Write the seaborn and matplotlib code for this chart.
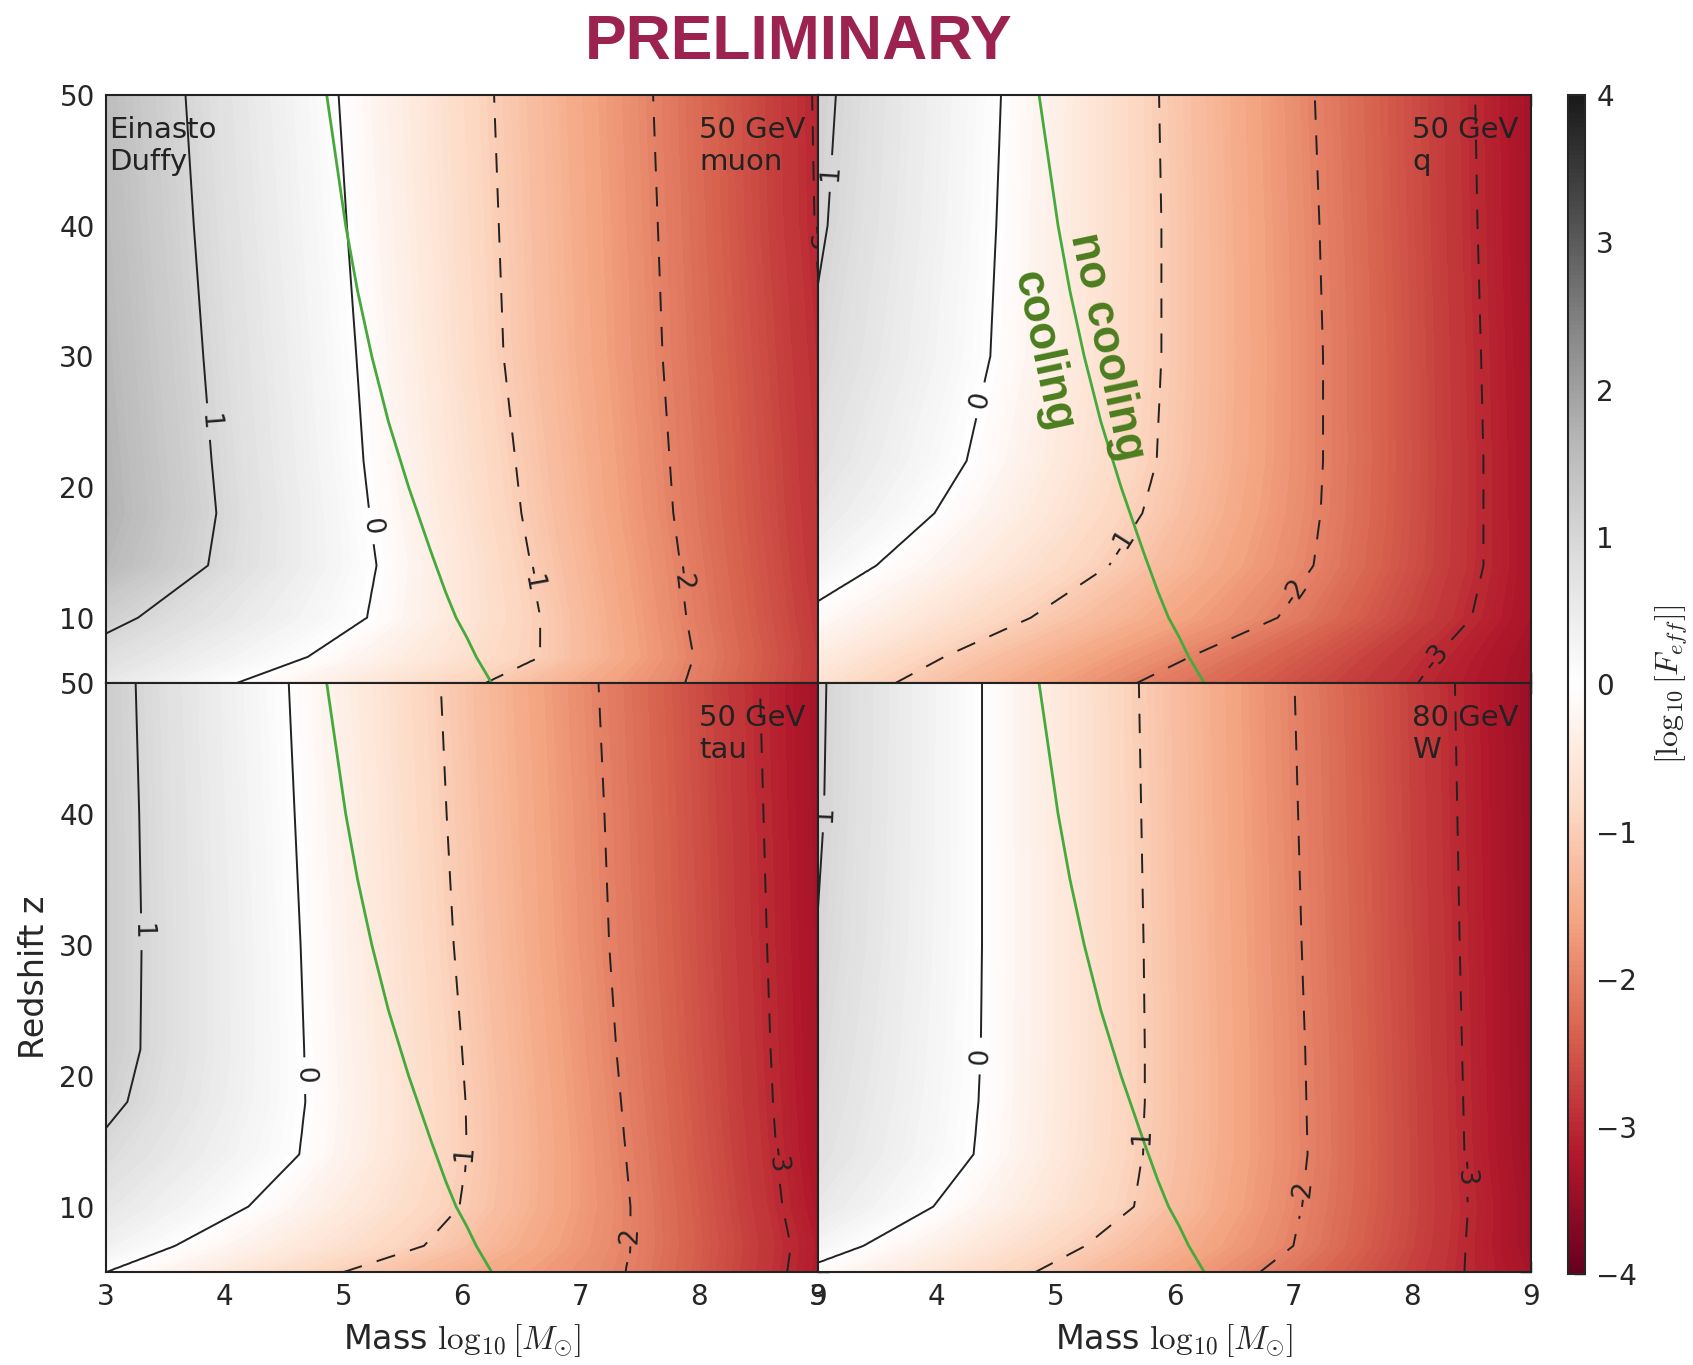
import numpy as np
import matplotlib
matplotlib.use("Agg")
import matplotlib.pyplot as plt
import seaborn as sns

# contour levels and the redshift nodes at which crossings were read
levels = [1, 0, -1, -2, -3]
z_nodes = [5, 7, 10, 14, 18, 22, 30, 40, 50]

# mass (log10 Msun) where each level crosses, one value per z node
muon_l1 = [2.2, 2.6, 3.27, 3.86, 3.93, 3.89, 3.82, 3.74, 3.67]
muon_l0 = [4.1, 4.7, 5.2, 5.28, 5.22, 5.17, 5.11, 5.03, 4.96]
muon_m1 = [6.2, 6.66, 6.66, 6.58, 6.5, 6.45, 6.35, 6.31, 6.27]
muon_m2 = [7.88, 7.95, 7.89, 7.84, 7.78, 7.75, 7.69, 7.65, 7.61]
muon_m3 = [9.25, 9.25, 9.2, 9.15, 9.12, 9.1, 9.05, 8.97, 8.95]

q_l1 = [0.2, 0.6, 1.2, 1.9, 2.3, 2.6, 2.9, 3.08, 3.15]
q_l0 = [1.8, 2.2, 2.77, 3.49, 3.98, 4.25, 4.45, 4.5, 4.54]
q_m1 = [3.65, 4.06, 4.79, 5.45, 5.73, 5.85, 5.89, 5.89, 5.87]
q_m2 = [5.68, 6.13, 6.87, 7.17, 7.23, 7.25, 7.25, 7.22, 7.18]
q_m3 = [8.05, 8.2, 8.5, 8.6, 8.6, 8.6, 8.58, 8.55, 8.53]

tau_l1 = [1.6, 1.9, 2.3, 2.82, 3.18, 3.29, 3.3, 3.28, 3.25]
tau_l0 = [3.0, 3.58, 4.2, 4.63, 4.68, 4.67, 4.64, 4.59, 4.54]
tau_m1 = [5.0, 5.68, 5.98, 6.04, 6.03, 6.0, 5.93, 5.87, 5.82]
tau_m2 = [7.38, 7.42, 7.42, 7.38, 7.34, 7.3, 7.24, 7.2, 7.15]
tau_m3 = [8.74, 8.77, 8.7, 8.65, 8.62, 8.6, 8.57, 8.54, 8.51]

w_l1 = [1.5, 1.8, 2.3, 2.6, 2.75, 2.85, 2.98, 3.05, 3.07]
w_l0 = [2.78, 3.38, 3.97, 4.31, 4.35, 4.37, 4.38, 4.38, 4.38]
w_m1 = [4.83, 5.25, 5.66, 5.73, 5.75, 5.75, 5.74, 5.72, 5.7]
w_m2 = [6.72, 7.0, 7.07, 7.12, 7.11, 7.1, 7.07, 7.04, 7.01]
w_m3 = [8.44, 8.45, 8.47, 8.44, 8.43, 8.42, 8.4, 8.38, 8.36]

# "no cooling" boundary
cool_z = [50, 45, 40, 35, 30, 25, 20, 15, 12, 10, 8.5, 7, 5]
cool_m = [4.86, 4.94, 5.02, 5.12, 5.24, 5.38, 5.55, 5.74, 5.86, 5.95, 6.04, 6.12, 6.25]

panel_names = ["50 GeV\nmuon", "50 GeV\nq", "50 GeV\ntau", "80 GeV\nW"]
panel_data = [
    [muon_l1, muon_l0, muon_m1, muon_m2, muon_m3],
    [q_l1, q_l0, q_m1, q_m2, q_m3],
    [tau_l1, tau_l0, tau_m1, tau_m2, tau_m3],
    [w_l1, w_l0, w_m1, w_m2, w_m3],
]
# where to put the contour labels (mass, z), same order as levels
label_spots = [
    [(3.85, 25), (5.22, 17), (6.6, 13), (7.85, 13), (8.97, 39)],
    [(3.1, 44), (4.43, 26.5), (5.6, 15.5), (7.1, 11.5), (8.2, 7)],
    [(3.3, 31), (4.67, 20), (6.04, 13.7), (7.42, 7.5), (8.65, 13.5)],
    [(3.05, 40), (4.37, 21.5), (5.73, 15), (7.12, 11), (8.44, 12.5)],
]


def build_field(crossings, m_grid, z_grid):
    cr = np.array(crossings, float)
    lv = np.array(levels, float)
    # crossing masses on the fine z grid
    cr_fine = np.array([np.interp(z_grid, z_nodes, row) for row in cr])
    F = np.empty((len(z_grid), len(m_grid)))
    for j in range(len(z_grid)):
        xs = cr_fine[:, j]
        f = np.interp(m_grid, xs, lv)
        lo = m_grid < xs[0]
        f[lo] = lv[0] + (m_grid[lo] - xs[0]) * (lv[1] - lv[0]) / (xs[1] - xs[0])
        hi = m_grid > xs[-1]
        f[hi] = lv[-1] + (m_grid[hi] - xs[-1]) * (lv[-1] - lv[-2]) / (xs[-1] - xs[-2])
        F[j] = f
    return F


sns.set_style("ticks")
plt.rcParams["font.family"] = ["DejaVu Sans"]
plt.rcParams["mathtext.fontset"] = "cm"

fig = plt.figure(figsize=(16.93, 13.65), dpi=100)

x0, xm, x1 = 0.0626, 0.4832, 0.9043
y0, ym, y1 = 0.0681, 0.4996, 0.9304
boxes = [
    [x0, ym, xm - x0, y1 - ym],
    [xm, ym, x1 - xm, y1 - ym],
    [x0, y0, xm - x0, ym - y0],
    [xm, y0, x1 - xm, ym - y0],
]

m_grid = np.linspace(3, 9, 241)
z_grid = np.linspace(5, 50, 181)
M, Z = np.meshgrid(m_grid, z_grid)
fill_levels = np.linspace(-4, 4, 161)
dash = (0, (10, 8))

for i in range(4):
    ax = fig.add_axes(boxes[i])
    F = build_field(panel_data[i], m_grid, z_grid)
    ax.contourf(M, Z, F, levels=fill_levels, cmap="RdGy", extend="both")
    lv_sorted = sorted(levels)
    styles = [dash if l < 0 else "solid" for l in lv_sorted]
    cs = ax.contour(M, Z, F, levels=lv_sorted, colors="#222222",
                    linewidths=1.4, linestyles=styles)
    ax.clabel(cs, fmt="%d", inline=True, inline_spacing=10, fontsize=19,
              manual=label_spots[i])
    sns.lineplot(x=cool_m, y=cool_z, sort=False, estimator=None,
                 color="#44aa3c", linewidth=2, ax=ax)

    ax.set_xlim(3, 9)
    ax.set_ylim(5, 50)
    ax.set_xticks(range(3, 10))
    if i % 2 == 0:
        ax.set_yticks(range(10, 51, 10))
    else:
        ax.set_yticks(range(5, 51, 5))
        ax.tick_params(labelleft=False)
    if i < 2:
        ax.tick_params(labelbottom=False)
    else:
        ax.set_xlabel(r"Mass $\log_{10}[M_{\odot}]$", fontsize=24, labelpad=8)
    ax.tick_params(direction="in", top=True, right=True, length=8,
                   width=1, labelsize=20, pad=8)
    for sp in ax.spines.values():
        sp.set_linewidth(1.5)
        sp.set_color("#222222")

    ax.text(8.0, 48.4, panel_names[i], ha="left", va="top", fontsize=21,
            color="#222222")
    if i == 0:
        ax.text(3.03, 48.4, "Einasto\nDuffy", ha="left", va="top",
                fontsize=21, color="#222222")
    if i == 1:
        ax.text(5.43, 30.7, "no cooling", rotation=-78, ha="center",
                va="center", fontsize=33, fontweight="bold",
                color="#4b7d1e", family=["Liberation Sans", "DejaVu Sans"])
        ax.text(4.89, 30.4, "cooling", rotation=-78, ha="center",
                va="center", fontsize=33, fontweight="bold",
                color="#4b7d1e", family=["Liberation Sans", "DejaVu Sans"])
    if i == 2:
        ax.set_ylabel("Redshift z", fontsize=24, labelpad=6)

cax = fig.add_axes([0.926, 0.0667, 0.0103, 0.8637])
sm = plt.cm.ScalarMappable(norm=plt.Normalize(-4, 4), cmap="RdGy")
cb = fig.colorbar(sm, cax=cax, ticks=range(-4, 5))
cb.ax.tick_params(direction="in", length=8, width=1, labelsize=20, pad=8)
cb.outline.set_linewidth(1.5)
cb.set_label(r"$[\log_{10}[F_{eff}]]$", fontsize=23, labelpad=12)

fig.text(0.4715, 0.9568, "PRELIMINARY", ha="center", va="baseline",
         fontsize=45, fontweight="bold", color="#9c2350",
         family=["Liberation Sans", "DejaVu Sans"])

fig.savefig("out.png", dpi=100)
